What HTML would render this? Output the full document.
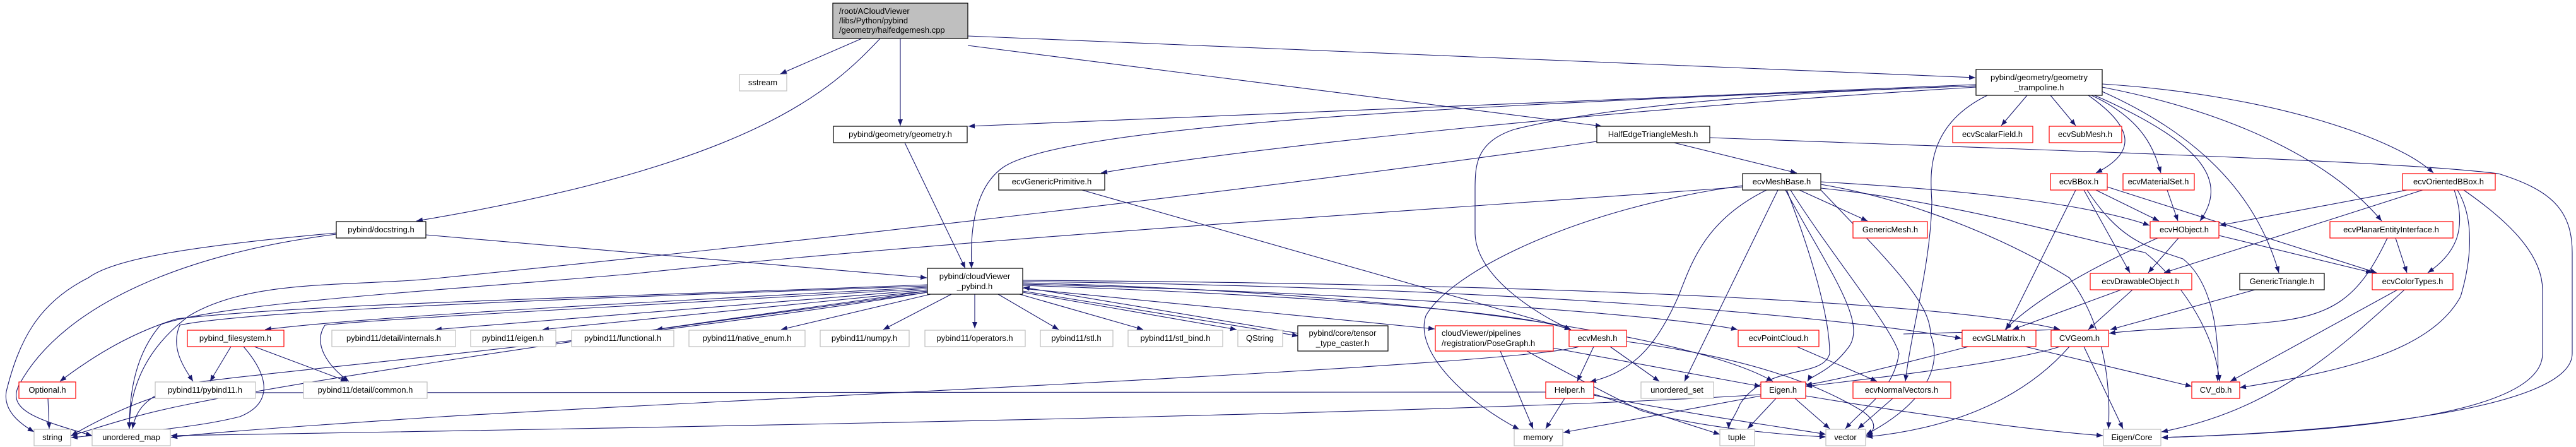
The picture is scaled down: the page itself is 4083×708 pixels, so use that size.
<!DOCTYPE html>
<html><head><meta charset="utf-8"><style>
html,body{margin:0;padding:0;background:#fff}
svg{display:block}
text{font-family:"Liberation Sans",sans-serif;font-size:13px;fill:#000;text-anchor:middle}
.e{fill:none;stroke:#191970;stroke-width:1.1}
.n rect{fill:#fff;stroke-width:1.2}
.b{stroke:#000}.r{stroke:#ff0000}.g{stroke:#bfbfbf}
</style></head><body>
<svg width="4083" height="708" viewBox="0 0 4083 708" xmlns="http://www.w3.org/2000/svg">
<defs><marker id="a" viewBox="0 0 10 8" refX="10" refY="4" markerWidth="10" markerHeight="8" markerUnits="userSpaceOnUse" orient="auto"><path d="M0,0 L10,4 L0,8 z" fill="#191970"/></marker></defs>
<g marker-end="url(#a)">
<!-- main -->
<path class="e" d="M1366,61 L1237,117"/>
<path class="e" d="M1395,61 C1320,140 1200,260 660,350"/>
<path class="e" d="M1427,61 L1427,199"/>
<path class="e" d="M1534,72 L2539,200"/>
<path class="e" d="M1534,57 L3131,123"/>
<!-- trampoline -->
<path class="e" d="M3132,134 L1535,200"/>
<path class="e" d="M3132,136 C2500,160 1700,190 1590,265 C1540,300 1538,380 1540,425"/>
<path class="e" d="M3132,138 C2600,170 2000,230 1745,274"/>
<path class="e" d="M3132,136 C2700,150 2500,180 2400,205 C2340,225 2338,260 2338,300 L2338,370 C2340,440 2440,500 2490,522"/>
<path class="e" d="M3213,151 L3172,199"/>
<path class="e" d="M3250,151 L3290,199"/>
<path class="e" d="M3310,151 C3380,200 3390,240 3322,274"/>
<path class="e" d="M3315,151 C3400,190 3415,240 3425,274"/>
<path class="e" d="M3320,151 C3500,230 3530,290 3487,350"/>
<path class="e" d="M3332,145 C3500,220 3580,320 3612,432"/>
<path class="e" d="M3332,138 C3550,180 3700,260 3775,350"/>
<path class="e" d="M3332,133 C3600,150 3800,220 3857,274"/>
<path class="e" d="M3150,151 C3050,200 3060,280 3062,320 C3060,420 3030,520 3020,604"/>
<!-- HalfEdge -->
<path class="e" d="M2653,226 L2848,274"/>
<path class="e" d="M2710,218 C3300,240 3800,255 3960,275 C4040,300 4077,330 4077,400 L4077,560 C4077,650 3700,685 3426,693"/>
<path class="e" d="M2531,224 C2000,300 1300,380 700,440 C560,455 400,440 300,500 C220,560 205,630 205,679"/>
<!-- generic primitive / geometry -->
<path class="e" d="M1715,301 L2490,522"/>
<path class="e" d="M1434,226 L1530,425"/>
<!-- docstring -->
<path class="e" d="M533,369 C300,390 180,410 140,440 C60,480 30,540 10,620 C5,650 30,670 54,684"/>
<path class="e" d="M533,371 C300,400 100,480 30,610 C10,650 60,665 146,690"/>
<path class="e" d="M675,372 L1469,440"/>
<!-- cloudViewer_pybind fan -->
<path class="e" d="M1470,451 C1000,470 500,480 280,505 C200,530 140,570 95,604"/>
<path class="e" d="M1470,453 C1000,470 400,490 285,515 C270,550 290,580 306,604"/>
<path class="e" d="M1470,455 C1000,480 600,500 420,522"/>
<path class="e" d="M1470,457 C1000,485 600,505 515,515 C495,545 520,580 553,604"/>
<path class="e" d="M1470,459 L690,522"/>
<path class="e" d="M1470,461 L860,522"/>
<path class="e" d="M1470,463 L1040,522"/>
<path class="e" d="M1475,466 L1238,522"/>
<path class="e" d="M1508,466 L1400,522"/>
<path class="e" d="M1545,466 L1545,520"/>
<path class="e" d="M1582,466 L1678,522"/>
<path class="e" d="M1616,466 L1812,522"/>
<path class="e" d="M1621,463 L1960,522"/>
<path class="e" d="M1621,461 L2058,532"/>
<path class="e" d="M2058,528 L1622,455"/>
<path class="e" d="M1621,457 L2274,521"/>
<path class="e" d="M1621,452 C2000,465 2400,490 2490,522"/>
<path class="e" d="M1621,450 C2200,465 2650,500 2754,522"/>
<path class="e" d="M1621,448 C2300,465 2700,540 2810,604"/>
<path class="e" d="M1621,446 C2400,455 2900,500 3109,536"/>
<path class="e" d="M1621,444 C2500,450 3100,480 3265,522"/>
<path class="e" d="M1470,461 C900,540 500,600 300,640 C200,660 150,680 112,690"/>
<path class="e" d="M1470,463 C1000,540 400,590 280,610 C230,630 215,650 210,679"/>
<!-- filesystem, optional -->
<path class="e" d="M366,549 L333,604"/>
<path class="e" d="M403,549 L550,604"/>
<path class="e" d="M386,549 C430,600 430,640 380,660 C300,680 200,685 113,693"/>
<path class="e" d="M76,631 L78,679"/>
<!-- ecvMeshBase -->
<path class="e" d="M2852,301 L2960,350"/>
<path class="e" d="M2886,288 C3100,300 3300,320 3407,357"/>
<path class="e" d="M2886,298 C3100,320 3300,380 3400,400 C3450,440 3510,520 3518,604"/>
<path class="e" d="M2886,292 C3050,320 3200,390 3280,440 C3340,520 3345,620 3342,679"/>
<path class="e" d="M2762,294 C2500,330 2300,430 2260,500 C2240,560 2330,640 2408,680"/>
<path class="e" d="M2800,301 C2700,350 2680,420 2660,470 C2620,560 2580,590 2520,605"/>
<path class="e" d="M2818,301 L2670,604"/>
<path class="e" d="M2832,301 C2870,400 2900,500 2900,560 C2890,600 2800,575 2758,640 C2750,660 2740,670 2740,679"/>
<path class="e" d="M2830,301 C2900,430 2960,510 2930,550 C2900,590 2870,595 2865,604"/>
<path class="e" d="M2838,301 C2900,400 3000,520 3010,560 C3000,620 2960,640 2925,679"/>
<path class="e" d="M2762,296 C2300,330 1500,380 1000,434 C700,460 350,480 255,514 C215,560 205,620 205,679"/>
<path class="e" d="M2886,301 C3000,420 3060,480 3060,530 C3080,580 3050,640 2958,688"/>
<!-- ecvMesh -->
<path class="e" d="M2526,549 L2500,604"/>
<path class="e" d="M2552,549 L2630,604"/>
<path class="e" d="M2578,541 C2800,570 2900,620 2950,650 C2980,670 2970,685 2958,690"/>
<path class="e" d="M2503,549 C2400,580 1200,630 700,660 C400,680 300,688 271,693"/>
<!-- posegraph -->
<path class="e" d="M2378,556 L2430,679"/>
<path class="e" d="M2460,551 L2791,612"/>
<path class="e" d="M2420,556 C2500,600 2560,630 2600,650 C2700,680 2850,690 2894,692"/>
<!-- pointcloud -->
<path class="e" d="M2848,549 L2975,604"/>
<!-- Helper -->
<path class="e" d="M2480,631 L2450,679"/>
<path class="e" d="M2526,624 L2726,688"/>
<path class="e" d="M2526,626 C2700,660 2850,680 2894,688"/>
<path class="e" d="M2450,621 L270,622 C200,640 130,680 113,690"/>
<!-- Eigen.h -->
<path class="e" d="M2791,627 L2478,685"/>
<path class="e" d="M2815,631 L2770,679"/>
<path class="e" d="M2845,631 L2900,679"/>
<path class="e" d="M2862,627 C3000,650 3200,680 3333,690"/>
<path class="e" d="M2791,625 C2400,650 1500,670 271,690"/>
<!-- normal vectors -->
<path class="e" d="M3000,631 L2945,679"/>
<!-- CVGeom -->
<path class="e" d="M3265,549 C3200,570 3050,590 2862,612"/>
<path class="e" d="M3280,549 C3200,640 3080,680 2958,692"/>
<path class="e" d="M3303,549 L3365,679"/>
<!-- GLMatrix -->
<path class="e" d="M3210,549 L3474,612"/>
<path class="e" d="M3120,549 C3000,580 2920,600 2862,610"/>
<!-- HObject -->
<path class="e" d="M3453,377 L3405,432"/>
<path class="e" d="M3420,377 C3300,430 3220,480 3178,522"/>
<path class="e" d="M3517,373 L3760,432"/>
<!-- BBox -->
<path class="e" d="M3322,301 L3422,350"/>
<path class="e" d="M3303,301 L3376,432"/>
<path class="e" d="M3290,301 L3180,522"/>
<path class="e" d="M3308,301 C3360,380 3400,390 3460,410 C3510,450 3518,540 3515,604"/>
<path class="e" d="M3340,296 L3767,432"/>
<!-- MaterialSet -->
<path class="e" d="M3435,301 L3452,350"/>
<!-- OrientedBBox -->
<path class="e" d="M3815,301 L3518,357"/>
<path class="e" d="M3840,301 L3430,432"/>
<path class="e" d="M3890,301 C3910,360 3895,400 3848,432"/>
<path class="e" d="M3895,301 C3925,350 3915,420 3900,470 C3850,560 3700,590 3550,614"/>
<path class="e" d="M3905,301 C3990,360 4030,410 4030,460 L4030,560 C4030,660 3700,685 3426,693"/>
<!-- planar -->
<path class="e" d="M3797,377 L3815,432"/>
<path class="e" d="M3784,377 C3740,470 3700,500 3600,510 C3500,520 3400,520 3343,528"/>
<!-- drawable -->
<path class="e" d="M3362,459 L3190,522"/>
<path class="e" d="M3380,459 L3310,522"/>
<!-- generic triangle -->
<path class="e" d="M3574,459 L3345,522"/>
<!-- color types -->
<path class="e" d="M3800,459 L3535,604"/>
<path class="e" d="M3811,459 C3700,560 3600,650 3426,684"/>
<!-- GenericMesh -->
<path class="e" d="M3017,529 L3265,522"/>
</g>
<g class="n">
<rect x="1320" y="5" width="214" height="56" style="fill:#bfbfbf;stroke:#000"/>
<text x="1330" y="22" style="text-anchor:start">/root/ACloudViewer</text>
<text x="1330" y="37" style="text-anchor:start">/libs/Python/pybind</text>
<text x="1330" y="52" style="text-anchor:start">/geometry/halfedgemesh.cpp</text>

<rect class="g" x="1172" y="118" width="75" height="26"/><text x="1209" y="135">sstream</text>
<rect class="b" x="1321" y="200" width="212" height="26"/><text x="1427" y="217">pybind/geometry/geometry.h</text>
<rect class="b" x="2531" y="200" width="179" height="26"/><text x="2620" y="217">HalfEdgeTriangleMesh.h</text>
<rect class="b" x="3132" y="110" width="200" height="41"/><text x="3232" y="127">pybind/geometry/geometry</text><text x="3232" y="143">_trampoline.h</text>
<rect class="r" x="3095" y="200" width="127" height="26"/><text x="3158" y="217">ecvScalarField.h</text>
<rect class="r" x="3248" y="200" width="115" height="26"/><text x="3305" y="217">ecvSubMesh.h</text>
<rect class="b" x="1583" y="275" width="168" height="26"/><text x="1667" y="292">ecvGenericPrimitive.h</text>
<rect class="b" x="2762" y="275" width="124" height="26"/><text x="2824" y="292">ecvMeshBase.h</text>
<rect class="r" x="3250" y="275" width="90" height="26"/><text x="3295" y="292">ecvBBox.h</text>
<rect class="r" x="3365" y="275" width="113" height="26"/><text x="3421" y="292">ecvMaterialSet.h</text>
<rect class="r" x="3808" y="275" width="147" height="26"/><text x="3881" y="292">ecvOrientedBBox.h</text>
<rect class="b" x="533" y="351" width="142" height="26"/><text x="604" y="368">pybind/docstring.h</text>
<rect class="r" x="2937" y="351" width="118" height="26"/><text x="2996" y="368">GenericMesh.h</text>
<rect class="r" x="3408" y="351" width="109" height="26"/><text x="3462" y="368">ecvHObject.h</text>
<rect class="r" x="3693" y="351" width="195" height="26"/><text x="3790" y="368">ecvPlanarEntityInterface.h</text>
<rect class="b" x="1470" y="425" width="151" height="41"/><text x="1545" y="442">pybind/cloudViewer</text><text x="1545" y="458">_pybind.h</text>
<rect class="r" x="3313" y="433" width="161" height="26"/><text x="3393" y="450">ecvDrawableObject.h</text>
<rect class="b" x="3550" y="433" width="134" height="26"/><text x="3617" y="450">GenericTriangle.h</text>
<rect class="r" x="3760" y="433" width="128" height="26"/><text x="3824" y="450">ecvColorTypes.h</text>

<rect class="r" x="297" y="523" width="153" height="26"/><text x="373" y="540">pybind_filesystem.h</text>
<rect class="g" x="526" y="523" width="196" height="26"/><text x="624" y="540">pybind11/detail/internals.h</text>
<rect class="g" x="746" y="523" width="135" height="26"/><text x="813" y="540">pybind11/eigen.h</text>
<rect class="g" x="906" y="523" width="162" height="26"/><text x="987" y="540">pybind11/functional.h</text>
<rect class="g" x="1092" y="523" width="184" height="26"/><text x="1184" y="540">pybind11/native_enum.h</text>
<rect class="g" x="1300" y="523" width="141" height="26"/><text x="1370" y="540">pybind11/numpy.h</text>
<rect class="g" x="1466" y="523" width="159" height="26"/><text x="1545" y="540">pybind11/operators.h</text>
<rect class="g" x="1649" y="523" width="115" height="26"/><text x="1706" y="540">pybind11/stl.h</text>
<rect class="g" x="1788" y="523" width="150" height="26"/><text x="1863" y="540">pybind11/stl_bind.h</text>
<rect class="g" x="1962" y="523" width="71" height="26"/><text x="1997" y="540">QString</text>
<rect class="b" x="2057" y="516" width="143" height="40"/><text x="2128" y="532">pybind/core/tensor</text><text x="2128" y="548">_type_caster.h</text>
<rect class="r" x="2275" y="516" width="187" height="40"/><text x="2285" y="532" style="text-anchor:start">cloudViewer/pipelines</text><text x="2285" y="548" style="text-anchor:start">/registration/PoseGraph.h</text>
<rect class="r" x="2487" y="523" width="91" height="26"/><text x="2532" y="540">ecvMesh.h</text>
<rect class="r" x="2755" y="523" width="128" height="26"/><text x="2819" y="540">ecvPointCloud.h</text>
<rect class="r" x="3110" y="523" width="117" height="26"/><text x="3168" y="540">ecvGLMatrix.h</text>
<rect class="r" x="3251" y="523" width="91" height="26"/><text x="3296" y="540">CVGeom.h</text>

<rect class="r" x="30" y="605" width="90" height="26"/><text x="75" y="622">Optional.h</text>
<rect class="g" x="246" y="605" width="159" height="26"/><text x="325" y="622">pybind11/pybind11.h</text>
<rect class="g" x="481" y="605" width="196" height="26"/><text x="579" y="622">pybind11/detail/common.h</text>
<rect class="r" x="2450" y="605" width="76" height="26"/><text x="2488" y="622">Helper.h</text>
<rect class="g" x="2601" y="605" width="115" height="26"/><text x="2658" y="622">unordered_set</text>
<rect class="r" x="2791" y="605" width="71" height="26"/><text x="2826" y="622">Eigen.h</text>
<rect class="r" x="2937" y="605" width="155" height="26"/><text x="3014" y="622">ecvNormalVectors.h</text>
<rect class="r" x="3474" y="605" width="76" height="26"/><text x="3512" y="622">CV_db.h</text>

<rect class="g" x="54" y="680" width="58" height="26"/><text x="83" y="697">string</text>
<rect class="g" x="146" y="680" width="124" height="26"/><text x="208" y="697">unordered_map</text>
<rect class="g" x="2400" y="680" width="77" height="26"/><text x="2438" y="697">memory</text>
<rect class="g" x="2726" y="680" width="55" height="26"/><text x="2753" y="697">tuple</text>
<rect class="g" x="2894" y="680" width="63" height="26"/><text x="2925" y="697">vector</text>
<rect class="g" x="3334" y="680" width="91" height="26"/><text x="3379" y="697">Eigen/Core</text>
</g>
</svg>
</body></html>
